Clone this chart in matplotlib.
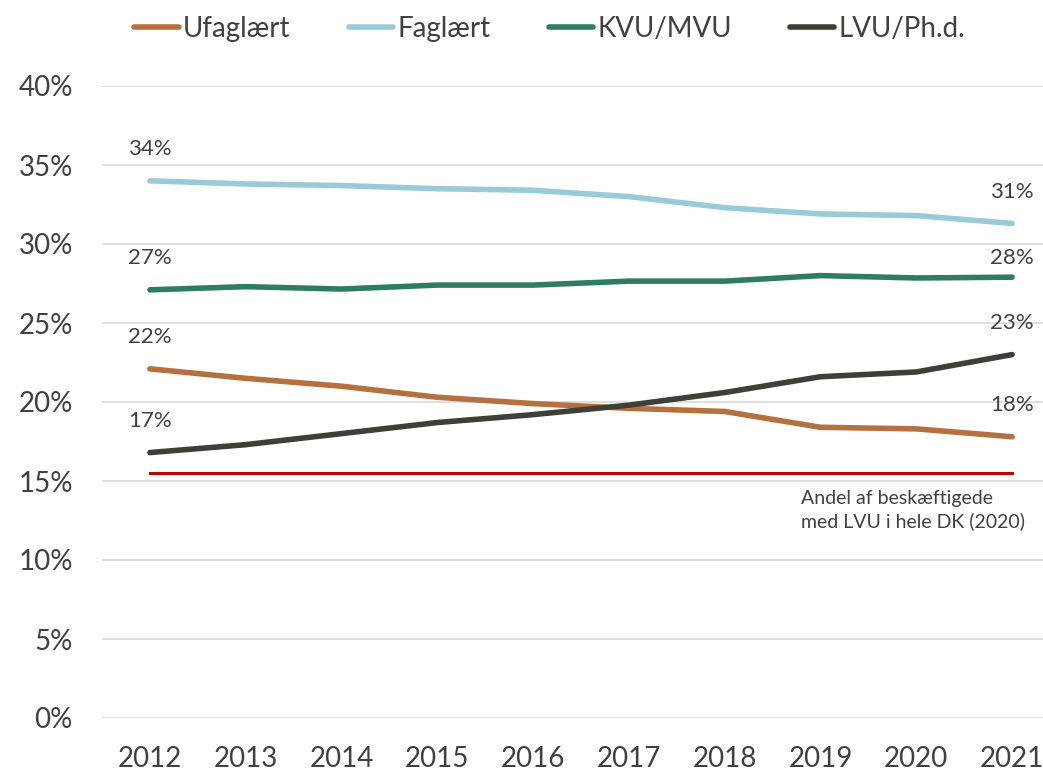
import matplotlib
matplotlib.use("Agg")
import matplotlib.pyplot as plt
from matplotlib.ticker import FuncFormatter

plt.rcParams['font.family'] = ['Lato', 'DejaVu Sans']

# -----------------------------
# Data (share of employed, %)
# -----------------------------
years = [2012, 2013, 2014, 2015, 2016, 2017, 2018, 2019, 2020, 2021]
ufaglaert = [22.1, 21.5, 21.0, 20.3, 19.9, 19.6, 19.4, 18.4, 18.3, 17.8]
faglaert = [34.0, 33.8, 33.7, 33.5, 33.4, 33.0, 32.3, 31.9, 31.8, 31.3]
kvu_mvu = [27.1, 27.3, 27.15, 27.4, 27.4, 27.65, 27.65, 28.0, 27.85, 27.9]
lvu_phd = [16.8, 17.3, 18.0, 18.7, 19.2, 19.8, 20.6, 21.6, 21.9, 23.0]
dk_lvu_share = 15.5

series = [
    ("Ufaglært", ufaglaert, "#B5703F"),
    ("Faglært", faglaert, "#98CAD8"),
    ("KVU/MVU", kvu_mvu, "#2E7D60"),
    ("LVU/Ph.d.", lvu_phd, "#3E3F37"),
]

text_col = "#404040"

fig = plt.figure(figsize=(10.43, 7.70), dpi=100)
ax = fig.add_axes([102 / 1043, 52 / 770, 958 / 1043, 632 / 770])

x = list(range(len(years)))

# reference line
ax.plot(x, [dk_lvu_share] * len(x), color="#C00000", lw=2.2, zorder=2)

for name, vals, col in series:
    ax.plot(x, vals, color=col, lw=4, label=name, solid_capstyle="round", zorder=3)
    for i in (0, len(x) - 1):
        # last KVU/MVU label sits a bit lower, as in the original
        dy = 14 if (name == "KVU/MVU" and i == len(x) - 1) else 23
        ax.annotate(f"{vals[i]:.0f}%", (x[i], vals[i]), xytext=(0, dy),
                    textcoords="offset points", ha="center", va="center",
                    fontsize=16, color=text_col)

ax.text(6.8, 14.4, "Andel af beskæftigede\nmed LVU i hele DK (2020)",
        fontsize=14, color=text_col, va="top", ha="left", linespacing=1.3)

ax.set_xlim(-0.5, 9.5)
ax.set_ylim(0, 40)
ax.set_xticks(x)
ax.set_xticklabels([str(y) for y in years])
ax.set_yticks(range(0, 41, 5))
ax.yaxis.set_major_formatter(FuncFormatter(lambda v, p: f"{v:.0f}%"))
ax.tick_params(axis="both", length=0, labelsize=20, labelcolor=text_col)
ax.tick_params(axis="x", pad=20)
ax.tick_params(axis="y", pad=21)
ax.grid(axis="y", color="#D9D9D9", lw=1.2)
ax.set_axisbelow(True)
for s in ax.spines.values():
    s.set_visible(False)

leg = fig.legend(loc="upper center", bbox_to_anchor=(0.527, 1.012), ncol=4,
                 frameon=False, fontsize=20, handlelength=1.6,
                 handletextpad=0.15, columnspacing=2.1)
for t in leg.get_texts():
    t.set_color(text_col)

fig.savefig("out.png", dpi=100)
